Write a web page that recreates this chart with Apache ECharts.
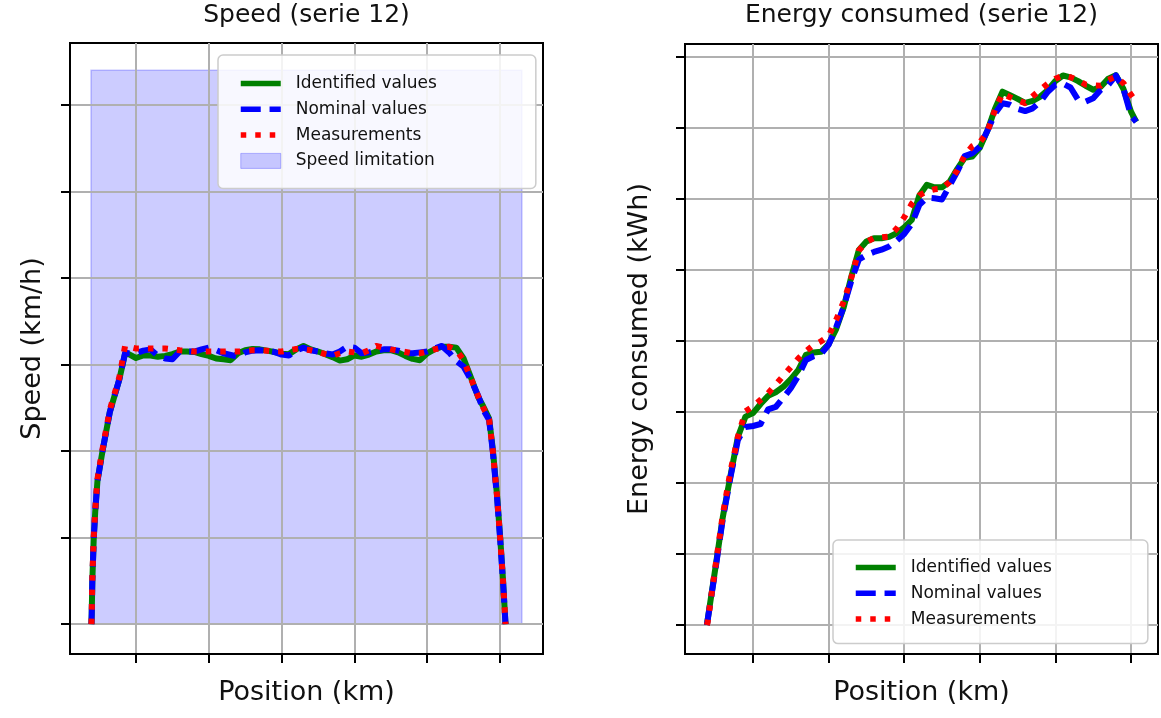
<!DOCTYPE html>
<html>
<head>
<meta charset="utf-8">
<title>Speed and energy consumed (serie 12)</title>
<script src="https://cdn.jsdelivr.net/npm/echarts@6/dist/echarts.min.js"></script>
<style>
  html, body { margin: 0; padding: 0; background: #ffffff; }
  #chart { width: 1161px; height: 718px; }
</style>
</head>
<body>
<div id="chart"></div>
<script>
// Position along the line (km) at which the speed profile is sampled
const speedPositions = [0.388, 0.392, 0.40, 0.42, 0.44, 0.47, 0.54, 0.64, 0.77, 0.85,
  0.9, 1.0, 1.1, 1.2, 1.3, 1.4, 1.5, 1.6, 1.7, 1.8, 1.9, 2.0, 2.1, 2.2, 2.3, 2.4, 2.5,
  2.6, 2.7, 2.8, 2.9, 3.0, 3.1, 3.2, 3.3, 3.4, 3.5, 3.6, 3.7, 3.8, 3.9, 4.0, 4.1, 4.2,
  4.3, 4.4, 4.5, 4.6, 4.7, 4.8, 4.9, 5.0, 5.1, 5.2, 5.3, 5.4, 5.5,
  5.6, 5.7, 5.77, 5.85, 5.9, 5.96, 6.0, 6.04, 6.075];

// Speed (km/h)
const speedIdentified = [0, 2.5, 10, 20, 26, 33, 40, 49, 56.5, 62.5,
  62.4, 61.5, 62.1, 62.1, 61.8, 62.0, 62.4, 63.0, 63.0, 62.9, 62.4, 62.0, 61.4, 61.2, 61.0, 62.6, 63.3,
  63.6, 63.5, 63.2, 62.9, 62.5, 62.4, 63.5, 64.3, 63.5, 63.0, 62.4, 61.7, 60.9, 61.2, 62.1, 61.8, 62.3,
  63.0, 63.3, 63.3, 62.8, 62.0, 61.3, 61.0, 62.6, 63.5, 64.1, 64.1, 63.9, 61.4,
  57.0, 52.5, 50.3, 47.5, 40.5, 29.5, 20.5, 10.5, 0];
const speedNominal = [0, 2.5, 10, 20, 26, 33, 40, 49, 56.5, 62.7,
  62.6, 62.6, 63.2, 63.5, 62.0, 61.4, 61.2, 63.0, 63.0, 63.0, 63.5, 63.9, 63.3, 62.6, 62.2, 61.8, 62.8,
  63.2, 63.3, 63.2, 62.9, 62.3, 62.1, 63.2, 63.9, 63.3, 63.0, 62.6, 62.3, 63.0, 64.1, 63.9, 62.6, 62.8,
  63.2, 63.5, 63.5, 63.2, 62.6, 62.6, 62.8, 63.0, 63.7, 64.3, 62.8, 60.8, 59.5,
  56.5, 52.8, 49.5, 47.2, 40, 29, 20, 10, 0];
const speedMeasured = [0, 2.5, 10.5, 20.5, 26.5, 33.5, 40.5, 49.5, 57, 64.3,
  64.1, 63.7, 63.7, 63.7, 63.7, 63.7, 63.5, 63.3, 63.2, 63.0, 63.0, 63.0, 63.0, 63.0, 63.0, 63.0, 63.1,
  63.3, 63.3, 63.2, 63.0, 63.0, 63.3, 63.6, 63.5, 63.3, 62.9, 62.4, 62.0, 62.6, 63.0, 62.8, 62.6, 63.3,
  64.3, 63.9, 63.5, 63.2, 62.9, 62.6, 62.6, 63.0, 63.5, 63.9, 64.1, 63.3, 61.0,
  56.8, 52.6, 50, 47.3, 40.2, 29.3, 20.2, 10.3, 0];

// Speed limitation: [start km, end km, limit km/h]
const speedLimit = [[0.382, 6.30, 128]];

// Position (km) at which the consumed energy is sampled
const energyPositions = [0.39, 0.4, 0.5, 0.6, 0.7, 0.8, 0.9, 1.0, 1.1, 1.2, 1.3, 1.4, 1.5,
  1.6, 1.7, 1.8, 1.9, 2.0, 2.1, 2.2, 2.3, 2.4, 2.5, 2.6, 2.7, 2.8, 2.9, 3.0, 3.1, 3.2,
  3.3, 3.4, 3.5, 3.6, 3.7, 3.8, 3.9, 4.0, 4.1, 4.2, 4.3, 4.4, 4.5, 4.6, 4.7, 4.8, 4.9,
  5.0, 5.1, 5.2, 5.3, 5.4, 5.5, 5.6, 5.7, 5.8, 5.9, 6.0, 6.07];

// Energy consumed (kWh)
const energyIdentified = [0, 0.14, 3.93, 7.58, 10.46, 13.24, 14.67, 14.92, 15.56, 16.13, 16.39, 16.77, 17.31,
  17.96, 19.02, 19.18, 19.23, 19.77, 20.83, 22.37, 24.51, 26.4, 26.99, 27.23, 27.23, 27.32, 27.58, 27.99, 28.52, 30.24,
  30.99, 30.81, 30.81, 31.2, 32.09, 32.89, 32.97, 33.59, 34.79, 36.32, 37.54, 37.3, 37.04, 36.75, 36.89, 37.2, 37.66,
  38.3, 38.68, 38.55, 38.29, 37.96, 37.68, 37.89, 38.46, 38.71, 37.73, 36.14, 35.42];
const energyNominal = [0, 0.14, 3.80, 7.46, 10.35, 13.03, 13.94, 14.01, 14.15, 15.18, 15.35, 15.99, 16.67,
  17.54, 18.66, 18.92, 19.08, 19.73, 20.96, 22.41, 24.23, 25.73, 26.05, 26.26, 26.42, 26.65, 27.05, 27.53, 28.24, 29.58,
  30.08, 30.04, 29.96, 30.92, 31.9, 33.01, 33.21, 33.66, 34.79, 35.99, 36.73, 36.62, 36.34, 36.18, 36.37, 36.83, 37.54,
  38.03, 38.11, 37.84, 36.97, 36.85, 37.08, 37.68, 38.03, 38.69, 37.75, 35.85, 35.42];
const energyMeasured = [0, 0.2, 4.01, 7.75, 10.77, 13.24, 15.04, 15.39, 15.85, 16.32, 16.92, 17.54, 18.15,
  18.77, 19.28, 19.7, 19.97, 20.34, 21.48, 22.77, 24.44, 26.37, 26.96, 27.24, 27.29, 27.34, 27.9, 28.7, 29.65, 30.25,
  30.53, 30.67, 30.72, 31.18, 31.99, 33.06, 33.7, 33.96, 34.72, 36.25, 37.42, 37.15, 36.94, 36.74, 37.22, 37.68, 38.11,
  38.46, 38.68, 38.56, 38.35, 38.04, 37.99, 37.97, 38.38, 38.59, 38.14, 37.32, 36.8];

// Tick positions (no tick labels are drawn)
const positionTicks = [1, 2, 3, 4, 5, 6];
const speedTicks = [0, 20, 40, 60, 80, 100, 120];
const energyTicks = [0, 5, 10, 15, 20, 25, 30, 35, 40];

const FONT = 'DejaVu Sans';
const LINE_W = 6;
const pairs = (xs, ys) => xs.map((x, i) => [x, ys[i]]);

const curveStyles = {
  'Identified values': { color: '#008000', width: LINE_W, type: 'solid', cap: 'butt', join: 'round' },
  'Nominal values':    { color: '#0000ff', width: LINE_W, type: [20, 8.8], cap: 'butt', join: 'round' },
  'Measurements':      { color: '#ff0000', width: LINE_W, type: [5.5, 9], cap: 'butt', join: 'round' }
};

function curve(name, xs, ys, axisIndex, z) {
  return {
    type: 'line', name: name,
    xAxisIndex: axisIndex, yAxisIndex: axisIndex,
    data: pairs(xs, ys),
    symbol: 'none', smooth: false, z: z,
    lineStyle: curveStyles[name],
    itemStyle: { color: curveStyles[name].color },
    emphasis: { disabled: true }
  };
}

function valueAxis(gridIndex, min, max, ticks, name, gap) {
  return {
    type: 'value', gridIndex: gridIndex, min: min, max: max,
    name: name, nameLocation: 'middle', nameGap: gap,
    nameTextStyle: { fontFamily: FONT, fontSize: 27, color: '#111' },
    axisLine: { show: true, onZero: false, lineStyle: { color: '#000', width: 2 } },
    axisTick: { show: true, customValues: ticks, length: 9, lineStyle: { color: '#000', width: 2 } },
    axisLabel: { show: false, customValues: ticks },
    splitLine: { show: true, lineStyle: { color: '#b0b0b0', width: 2 } }
  };
}

// Legend entries reuse the curve styles so the samples are drawn as thick lines
function legendEntry(name) {
  const s = curveStyles[name];
  return { name: name, lineStyle: { width: 5.5, color: s.color, type: s.type, cap: 'butt' } };
}

const legendBase = {
  orient: 'vertical',
  itemWidth: 40, itemHeight: 15, itemGap: 8.8,
  backgroundColor: 'rgba(255,255,255,0.85)',
  borderColor: '#cccccc', borderWidth: 1.5, borderRadius: 5,
  textStyle: { fontFamily: FONT, fontSize: 17, color: '#111', lineHeight: 15, padding: [0, 0, 0, 10] },
  itemStyle: { opacity: 0 },
  selectedMode: false
};

const chart = echarts.init(document.getElementById('chart'), null, { renderer: 'canvas' });

chart.setOption({
  animation: false,
  backgroundColor: '#ffffff',
  title: [
    { text: 'Speed (serie 12)', left: 306.5, top: 3, textAlign: 'center', padding: 0,
      textStyle: { fontFamily: FONT, fontSize: 25, fontWeight: 'normal', color: '#111' } },
    { text: 'Energy consumed (serie 12)', left: 921.5, top: 3, textAlign: 'center', padding: 0,
      textStyle: { fontFamily: FONT, fontSize: 25, fontWeight: 'normal', color: '#111' } }
  ],
  grid: [
    { left: 70, top: 43, width: 473, height: 611, show: true, borderColor: '#000', borderWidth: 2, containLabel: false },
    { left: 685, top: 44, width: 473, height: 610, show: true, borderColor: '#000', borderWidth: 2, containLabel: false }
  ],
  xAxis: [
    valueAxis(0, 0.0934, 6.59, positionTicks, 'Position (km)', 25),
    valueAxis(1, 0.1005, 6.357, positionTicks, 'Position (km)', 25)
  ],
  yAxis: [
    valueAxis(0, -6.9, 134.3, speedTicks, 'Speed (km/h)', 24),
    valueAxis(1, -2.04, 40.9, energyTicks, 'Energy consumed (kWh)', 31.5)
  ],
  legend: [
    Object.assign({}, legendBase, {
      left: 218, top: 55, padding: [20, 99, 19, 20],
      data: [legendEntry('Identified values'), legendEntry('Nominal values'), legendEntry('Measurements'),
        { name: 'Speed limitation', icon: 'rect',
          itemStyle: { opacity: 1, color: 'rgba(0,0,255,0.2)', borderColor: 'rgba(0,0,255,0.25)', borderWidth: 1 } }]
    }),
    Object.assign({}, legendBase, {
      left: 833, top: 540, padding: [19, 96, 16, 20],
      data: [legendEntry('Identified values'), legendEntry('Nominal values'), legendEntry('Measurements')]
    })
  ],
  series: [
    {
      type: 'custom', name: 'Speed limitation',
      xAxisIndex: 0, yAxisIndex: 0, z: -1,
      data: speedLimit,
      encode: { x: [0, 1], y: 2 },
      itemStyle: { color: 'rgba(0,0,255,0.2)' },
      renderItem: function (params, api) {
        const topLeft = api.coord([api.value(0), api.value(2)]);
        const bottomRight = api.coord([api.value(1), 0]);
        return {
          type: 'rect',
          shape: { x: topLeft[0], y: topLeft[1], width: bottomRight[0] - topLeft[0], height: bottomRight[1] - topLeft[1] },
          style: { fill: 'rgba(0,0,255,0.2)', stroke: 'rgba(0,0,255,0.22)', lineWidth: 1.5 }
        };
      }
    },
    curve('Identified values', speedPositions, speedIdentified, 0, 3),
    curve('Nominal values', speedPositions, speedNominal, 0, 4),
    curve('Measurements', speedPositions, speedMeasured, 0, 5),
    curve('Identified values', energyPositions, energyIdentified, 1, 3),
    curve('Nominal values', energyPositions, energyNominal, 1, 4),
    curve('Measurements', energyPositions, energyMeasured, 1, 5)
  ]
});
</script>
</body>
</html>
